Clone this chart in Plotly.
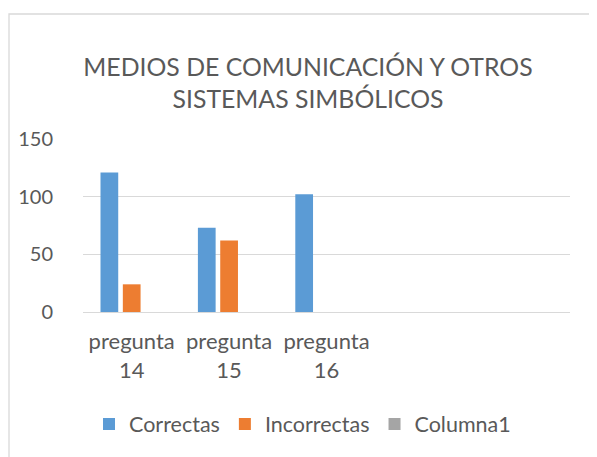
import plotly.graph_objects as go

categories = ["pregunta<br>14", "pregunta<br>15", "pregunta<br>16"]
correctas = [121, 73, 102]
incorrectas = [24, 62, None]
columna1 = [None, None, None]
series_names = ["Correctas", "Incorrectas", "Columna1"]
y_ticks = [0, 50, 100, 150]
title_text = "MEDIOS DE COMUNICACIÓN Y OTROS<br>SISTEMAS SIMBÓLICOS"

n_slots = 5
xpos = list(range(len(categories)))
txt = "#595959"
font_family = "Lato, Carlito, Calibri, sans-serif"

# the page body has an 8px margin, so the figure is drawn 8px in from the window edge
W, H = 589, 449
L, R, T, B = 75, 27, 131, 145

fig = go.Figure()
for name, vals, col in zip(series_names, [correctas, incorrectas, columna1],
                           ["#5B9BD5", "#ED7D31", "#A5A5A5"]):
    fig.add_trace(go.Bar(name=name, x=xpos, y=vals, marker_color=col,
                         marker_line_width=0))

pw, ph = W - L - R, H - T - B
fig.update_layout(
    width=W, height=H,
    paper_bgcolor="white", plot_bgcolor="white",
    barmode="group", bargap=0.312, bargroupgap=0.206,
    margin=dict(l=L, r=R, t=T, b=B, autoexpand=False),
    font=dict(family=font_family, color=txt, size=20),
    title=dict(text=title_text, x=300 / W, xanchor="center", xref="container",
               yref="container", y=1 - 68 / H, yanchor="top",
               font=dict(size=24.8, color=txt, family=font_family)),
    legend=dict(orientation="h", xref="container", yref="container",
                x=294.5 / W, xanchor="center", y=1 - 416 / H, yanchor="middle",
                font=dict(size=21.5, color=txt), itemwidth=30, traceorder="normal"),
    xaxis=dict(range=[-0.5, n_slots - 0.5], tickvals=xpos, ticktext=categories,
               showgrid=False, zeroline=False, showline=False, ticks="",
               ticklabelstandoff=14, tickfont=dict(size=22, color=txt)),
    yaxis=dict(range=[0, 150], tickvals=y_ticks, showgrid=True, gridcolor="#D9D9D9",
               gridwidth=1.3, zeroline=True, zerolinecolor="#D9D9D9", zerolinewidth=1.3,
               showline=False, ticks="", ticklabelstandoff=29,
               tickfont=dict(size=20, color=txt)),
)
# outer chart border (left and top edges visible)
fig.add_shape(type="rect", xref="paper", yref="paper",
              x0=(1 - L) / pw, x1=(W + 20 - L) / pw,
              y0=(H - B - (H + 20)) / ph, y1=(H - B - 6) / ph,
              line=dict(color="#D9D9D9", width=1.3), layer="below")

fig.write_html("out.html")
